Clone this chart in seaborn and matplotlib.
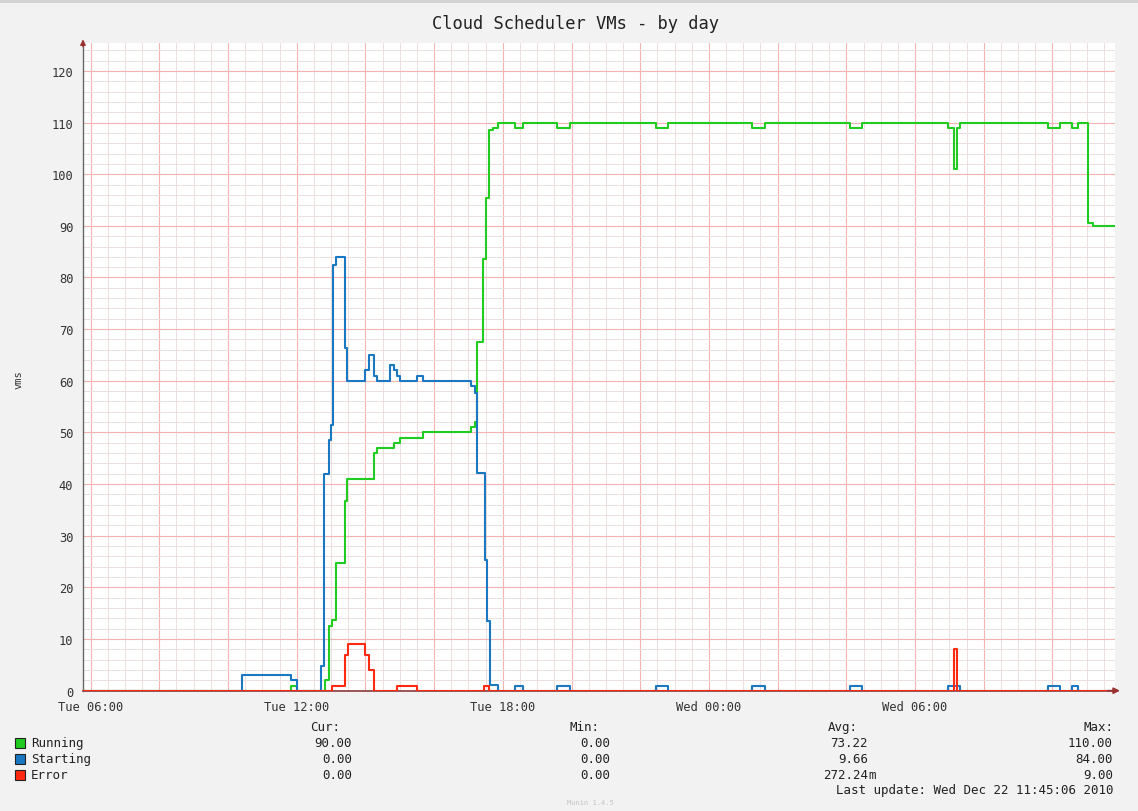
import matplotlib
matplotlib.use("Agg")
import matplotlib.pyplot as plt
from matplotlib.patches import Rectangle
from matplotlib.ticker import FixedLocator
import seaborn as sns
import pandas as pd

# Step-change points, hours since Tue 00:00
running_t = [5.78, 11.83, 12.01, 12.82, 12.94, 13.02, 13.14, 13.40, 13.47, 14.25, 14.33,
             14.83, 15.00, 15.68, 17.06, 17.19, 17.25, 17.43, 17.51, 17.60, 17.72, 17.87,
             18.35, 18.59, 19.58, 19.95, 22.46, 22.82, 25.24, 25.63, 28.10, 28.47,
             30.96, 31.13, 31.22, 31.31, 33.87, 34.22, 34.56, 34.75, 35.04, 35.18, 35.82]
running_v = [0, 1, 0, 2, 12.5, 13.7, 24.8, 36.7, 41, 46, 47,
             48, 49, 50, 51, 52, 67.5, 83.5, 95.4, 108.6, 109, 110,
             109, 110, 109, 110, 109, 110, 109, 110, 109, 110,
             109, 101, 109, 110, 109, 110, 109, 110, 90.5, 90, 90]

starting_t = [5.78, 10.41, 11.83, 12.01, 12.72, 12.80, 12.94, 13.00, 13.05, 13.14, 13.40,
              13.47, 13.99, 14.11, 14.25, 14.33, 14.73, 14.83, 14.91, 15.00, 15.49, 15.68,
              17.06, 17.19, 17.25, 17.48, 17.55, 17.62, 17.87,
              18.35, 18.59, 19.58, 19.95, 22.46, 22.82, 25.24, 25.63, 28.10, 28.47,
              30.96, 31.31, 33.87, 34.22, 34.56, 34.75, 35.82]
starting_v = [0, 3, 2, 0, 4.7, 42, 48.6, 51.5, 82.5, 84, 66.4,
              60, 62, 65, 61, 60, 63, 62, 61, 60, 61, 60,
              59, 57.6, 42.2, 25.4, 13.4, 1.2, 0,
              1, 0, 1, 0, 1, 0, 1, 0, 1, 0,
              1, 0, 1, 0, 1, 0, 0]

error_t = [5.78, 13.02, 13.40, 13.50, 13.99, 14.11, 14.25, 14.93, 15.49, 17.45, 17.60,
           31.13, 31.22, 35.82]
error_v = [0, 1, 7, 9, 7, 4, 0, 1, 0, 1, 0, 8, 0, 0]

series = ["Running", "Starting", "Error"]
colors = ["#1fcc1f", "#1a78c2", "#ff2a10"]
cur_vals = [90.00, 0.00, 0.00]
min_vals = [0.00, 0.00, 0.00]
avg_vals = [73.22, 9.66, 0.27224]
max_vals = [110.00, 84.00, 9.00]

tick_hours = [6, 12, 18, 24, 30]
tick_names = ["Tue 06:00", "Tue 12:00", "Tue 18:00", "Wed 00:00", "Wed 06:00"]
last_update = "Last update: Wed Dec 22 11:45:06 2010"

frames = []
for name, t, v in zip(series, [running_t, starting_t, error_t],
                      [running_v, starting_v, error_v]):
    frames.append(pd.DataFrame({"hour": t, "vms": v, "series": name}))
df = pd.concat(frames, ignore_index=True)

W, H = 1138, 812


def fx(px):
    return px / W


def fy(py):
    return 1 - py / H


def si(v):
    # rrdtool style: small values get an "m" suffix
    if 0 < abs(v) < 1:
        return f"{v * 1000:.2f}", "m"
    return f"{v:.2f}", ""


sns.set_style("white")
plt.rcParams["font.family"] = ["DejaVu Sans Mono"]

fig = plt.figure(figsize=(W / 100, H / 100), dpi=100, facecolor="#f2f2f2")
fig.patches.append(Rectangle((0, fy(4)), 1, 4 / H, transform=fig.transFigure,
                             facecolor="#d4d4d4", edgecolor="none"))
ax = fig.add_axes([fx(83), fy(691.7), fx(1115 - 83), (691.7 - 44) / H])
ax.set_facecolor("white")

sns.lineplot(data=df, x="hour", y="vms", hue="series", hue_order=series,
             palette=colors, estimator=None, sort=False, drawstyle="steps-post",
             linewidth=1.5, legend=False, ax=ax, zorder=3)

ax.set_xlim(5.78, 35.82)
ax.set_ylim(0, 125.4)

# grid: major every 2h / 10 vms, minor every 30 min / 2 vms
x_major = list(range(6, 36, 2))
x_minor = [h / 2 for h in range(12, 72) if h % 4 != 0]
y_major = list(range(0, 121, 10))
y_minor = [v for v in range(0, 126, 2) if v % 10 != 0]
ax.xaxis.set_major_locator(FixedLocator(x_major))
ax.xaxis.set_minor_locator(FixedLocator(x_minor))
ax.yaxis.set_major_locator(FixedLocator(y_major))
ax.yaxis.set_minor_locator(FixedLocator(y_minor))
ax.grid(which="minor", color="#ecdfdf", linewidth=0.7, zorder=0)
ax.grid(which="major", color="#f3b3b3", linewidth=0.8, zorder=0)
ax.set_axisbelow(True)

ax.set_xticklabels([tick_names[tick_hours.index(h)] if h in tick_hours else ""
                    for h in x_major])
ax.tick_params(axis="both", which="major", length=3, color="#888888", labelsize=8.7,
               labelcolor="#333333", pad=4)
ax.tick_params(which="minor", length=0)
ax.set_xlabel("")
ax.set_ylabel("")
fig.text(fx(18), fy(380), "vms", rotation=90, ha="center", va="center",
         fontsize=7.5, color="#333333")

for side in ["top", "right"]:
    ax.spines[side].set_visible(False)
ax.spines["left"].set_color("#666666")
ax.spines["bottom"].set_color("#8a3a3a")
ax.spines["bottom"].set_zorder(2)
ax.spines["left"].set_linewidth(1)
ax.spines["bottom"].set_linewidth(1.2)

ax.annotate("", xy=(1.0075, 0), xytext=(0.99, 0), xycoords="axes fraction",
            arrowprops=dict(arrowstyle="-|>", color="#993333", lw=1.2, mutation_scale=9),
            annotation_clip=False)
ax.annotate("", xy=(0, 1.01), xytext=(0, 0.99), xycoords="axes fraction",
            arrowprops=dict(arrowstyle="-|>", color="#993333", lw=1, mutation_scale=8),
            annotation_clip=False)

fig.text(fx(576), fy(24), "Cloud Scheduler VMs - by day", ha="center", va="center",
         fontsize=12.3, color="#222222")

# legend block
txt = dict(fontsize=9, color="#222222", va="center")
headers = [("Cur:", 340), ("Min:", 600), ("Avg:", 858), ("Max:", 1113)]
for label, px in headers:
    fig.text(fx(px), fy(728), label, ha="right", **txt)

cols = [(cur_vals, 352), (min_vals, 610), (avg_vals, 868), (max_vals, 1113)]
for i, (name, col) in enumerate(zip(series, colors)):
    y = 744 + 16 * i
    fig.patches.append(Rectangle((fx(15), fy(y + 5)), 10 / W, 10 / H,
                                 transform=fig.transFigure, facecolor=col,
                                 edgecolor="#222222", linewidth=0.8))
    fig.text(fx(31), fy(y), name, ha="left", **txt)
    for vals, px in cols:
        num, suffix = si(vals[i])
        fig.text(fx(px), fy(y), num, ha="right", **txt)
        if suffix:
            fig.text(fx(px), fy(y), suffix, ha="left", **txt)

fig.text(fx(1113), fy(791), last_update, ha="right", **txt)
fig.text(fx(590), fy(803), "Munin 1.4.5", ha="center", va="center",
         fontsize=5, color="#c4c4c4")

fig.savefig("out.png", dpi=100, facecolor=fig.get_facecolor())
